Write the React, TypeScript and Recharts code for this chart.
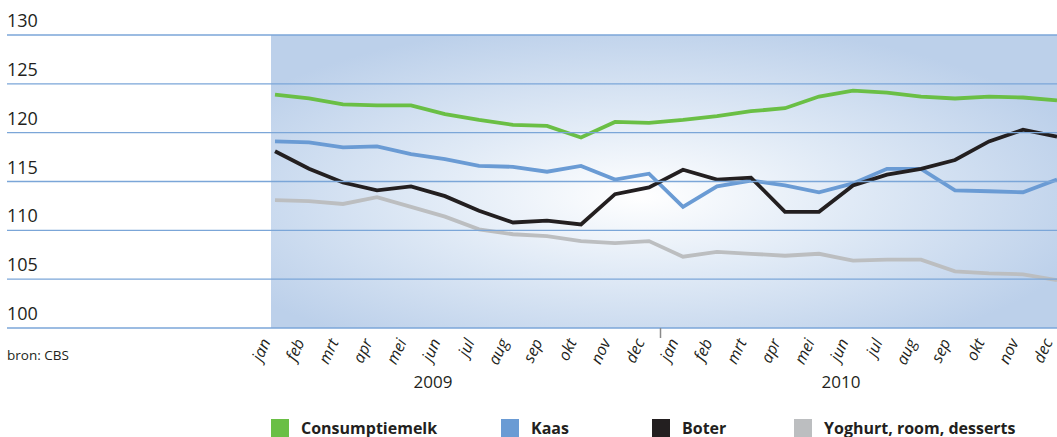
import React from "react";
import { LineChart, Line, XAxis, YAxis, CartesianGrid, Legend } from "recharts";

const years = ["2009", "2010"];
const monthNames = ["jan", "feb", "mrt", "apr", "mei", "jun", "jul", "aug", "sep", "okt", "nov", "dec"];
const periods = years.flatMap((y) => monthNames.map((m) => `${m} ${y}`));

const yTicks = [100, 105, 110, 115, 120, 125, 130];

const consumptiemelk = [123.9, 123.5, 122.9, 122.8, 122.8, 121.9, 121.3, 120.8, 120.7, 119.5, 121.1, 121.0, 121.3, 121.7, 122.2, 122.5, 123.7, 124.3, 124.1, 123.7, 123.5, 123.7, 123.6, 123.3];
const kaas = [119.1, 119.0, 118.5, 118.6, 117.8, 117.3, 116.6, 116.5, 116.0, 116.6, 115.2, 115.8, 112.4, 114.5, 115.1, 114.6, 113.9, 114.8, 116.3, 116.3, 114.1, 114.0, 113.9, 115.2];
const boter = [118.1, 116.3, 114.9, 114.1, 114.5, 113.5, 112.0, 110.8, 111.0, 110.6, 113.7, 114.4, 116.2, 115.2, 115.4, 111.9, 111.9, 114.6, 115.7, 116.3, 117.2, 119.1, 120.3, 119.6];
const yoghurt = [113.1, 113.0, 112.7, 113.4, 112.4, 111.4, 110.1, 109.6, 109.4, 108.9, 108.7, 108.9, 107.3, 107.8, 107.6, 107.4, 107.6, 106.9, 107.0, 107.0, 105.8, 105.6, 105.5, 104.9];

const series = [
  { key: "melk", name: "Consumptiemelk", color: "#6abf45", values: consumptiemelk },
  { key: "kaas", name: "Kaas", color: "#6a9bd4", values: kaas },
  { key: "boter", name: "Boter", color: "#231f20", values: boter },
  { key: "yoghurt", name: "Yoghurt, room, desserts", color: "#bcbec0", values: yoghurt },
];

const data = periods.map((p, i) => {
  const row: Record<string, any> = { period: p };
  series.forEach((s) => (row[s.key] = s.values[i]));
  return row;
});

const FONT = "'Open Sans', sans-serif";
const TEXT = "#231f20";
const GRID = "#7ba6d8";

function YTick(props: any) {
  const { y, payload } = props;
  return (
    <g>
      <line x1={7} x2={1057} y1={y} y2={y} stroke={GRID} strokeWidth={1.3} />
      <text x={7} y={y - 8} fill={TEXT} fontSize={18} fontFamily={FONT}>
        {payload.value}
      </text>
    </g>
  );
}

function MonthTick(props: any) {
  const { x, y, payload, index } = props;
  const month = String(payload.value).split(" ")[0];
  const tx = x - 4;
  const ty = y + 14;
  return (
    <g>
      <text
        x={tx}
        y={ty}
        transform={`rotate(-65, ${tx}, ${ty})`}
        textAnchor="end"
        fill={TEXT}
        fontSize={16}
        fontStyle="italic"
        fontFamily={FONT}
      >
        {month}
      </text>
      {index === 0 && (
        <text x={7} y={y + 32} fill={TEXT} fontSize={13.5} fontFamily={FONT}>
          bron: CBS
        </text>
      )}
      {index === 12 && <line x1={x - 22.5} x2={x - 22.5} y1={y} y2={y + 10} stroke="#8a8a8a" strokeWidth={1.5} />}
      {(index === 5 || index === 17) && (
        <text x={x - 12} y={y + 60} textAnchor="middle" fill={TEXT} fontSize={17} fontFamily={FONT}>
          {String(payload.value).split(" ")[1]}
        </text>
      )}
    </g>
  );
}

const legendLeft = [271, 501, 652, 794];

function LegendContent() {
  return (
    <div style={{ position: "relative", width: 1057, height: 23, fontFamily: FONT }}>
      {series.map((s, i) => (
        <div key={s.key} style={{ position: "absolute", left: legendLeft[i], top: 5, display: "flex", alignItems: "center" }}>
          <span style={{ display: "inline-block", width: 18, height: 18, background: s.color }} />
          <span style={{ marginLeft: 12, fontWeight: 700, fontSize: 16, color: TEXT, lineHeight: "18px" }}>{s.name}</span>
        </div>
      ))}
    </div>
  );
}

export default function App() {
  return (
    <div style={{ position: "absolute", left: 0, top: 0, width: 1057, height: 437, background: "#fff" }}>
      <LineChart width={1057} height={437} data={data} margin={{ top: 35, right: 0, left: 270, bottom: 0 }}>
        <defs>
          <radialGradient id="bgShade" cx="0.47" cy="0.55" r="0.6">
            <stop offset="0" stopColor="#ffffff" />
            <stop offset="0.45" stopColor="#e0eaf6" />
            <stop offset="1" stopColor="#bcd0ea" />
          </radialGradient>
        </defs>
        <CartesianGrid fill="url(#bgShade)" horizontal={false} vertical={false} stroke="none" />
        <YAxis
          domain={[100, 130]}
          ticks={yTicks}
          width={1}
          axisLine={false}
          tickLine={false}
          tick={<YTick />}
          interval={0}
        />
        <XAxis
          dataKey="period"
          interval={0}
          tick={<MonthTick />}
          tickLine={false}
          axisLine={false}
          tickSize={0}
          tickMargin={0}
          height={86}
          padding={{ left: 4, right: 0 }}
        />
        {series.map((s) => (
          <Line
            key={s.key}
            type="linear"
            dataKey={s.key}
            name={s.name}
            stroke={s.color}
            strokeWidth={3.8}
            dot={false}
            activeDot={false}
            isAnimationActive={false}
          />
        ))}
        <Legend verticalAlign="bottom" content={<LegendContent />} wrapperStyle={{ left: 0, width: 1057, height: 23 }} />
      </LineChart>
    </div>
  );
}
